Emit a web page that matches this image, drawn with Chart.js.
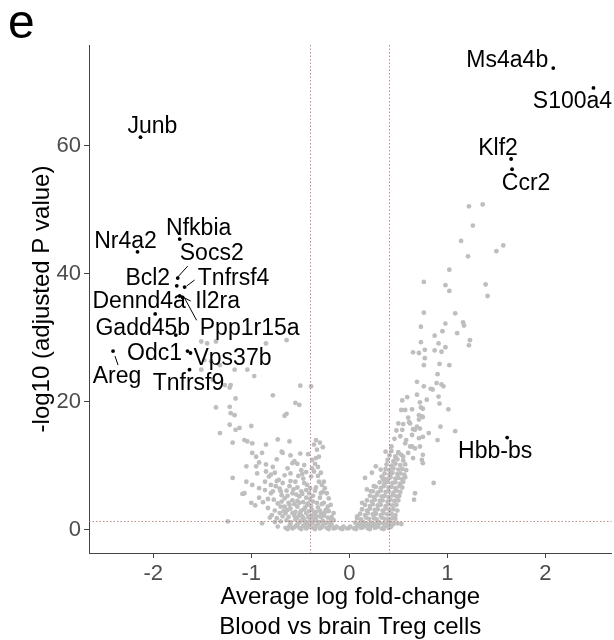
<!DOCTYPE html>
<html><head><meta charset="utf-8">
<script src="https://cdn.jsdelivr.net/npm/chart.js@4"></script>
<style>html,body{margin:0;padding:0;background:#fff;overflow:hidden}#wrap{position:relative;width:614px;height:640px}</style>
</head><body><div id="wrap"><canvas id="c" width="614" height="640"></canvas></div>
<script>
// ---- data ----
const geneNames = ['Junb','Nr4a2','Nfkbia','Socs2','Bcl2','Tnfrsf4','Dennd4a','Il2ra','Ppp1r15a','Gadd45b','Odc1','Vps37b','Areg','Tnfrsf9','Ms4a4b','S100a4','Klf2','Ccr2','Hbb-bs'];
const geneLogFC = [-2.13,-2.16,-1.73,-1.75,-1.76,-1.68,-1.98,-1.73,-1.70,-1.77,-1.65,-1.62,-2.41,-1.63,2.08,2.49,1.65,1.66,1.61];
const geneNegLogP = [61.3,43.4,45.4,39.3,38.1,37.9,33.7,36.5,36.3,30.4,27.9,27.6,27.9,25.0,72.1,69.0,57.9,56.3,14.4];

const grayLeftArm = [[-1.51,29.4],[-1.45,29.1],[-1.36,29.4],[-0.85,29.1],[-0.64,29.6],[-1.48,26.5],[-1.41,26.3],[-1.51,25.0],[-1.32,25.7],[-1.17,25.0],[-1.04,25.0],[-0.97,24.0],
[-1.39,23.4],[-1.27,22.6],[-1.22,22.2],[-1.21,22.6],[-0.50,22.5],[-0.39,22.4],[-0.78,21.0],[-1.16,20.5],[-0.55,19.8],[-0.51,19.5],[-1.36,19.1],[-1.22,19.2],[-1.21,18.2],[-1.17,17.9],[-0.66,17.8],[-0.64,18.1],
[-1.22,16.4],[-1.12,15.9],[-1.00,16.2],[-1.32,15.1],[-1.16,15.6],[-1.19,13.6],[-1.07,14.0],[-1.04,13.8],[-0.99,13.5],[-0.85,13.3],[-0.73,14.1],[-0.61,13.8],[-0.34,14.0],[-0.36,13.3],
[-0.99,12.0],[-0.89,12.0],[-0.95,11.4],[-0.68,12.0],[-0.50,11.9],[-0.69,12.2],[-0.33,12.5],[-0.58,10.4],[-0.46,10.1],[-0.56,10.7],[-0.38,10.9],[-0.34,11.2],[-0.31,11.4],
[-1.05,9.9],[-0.95,9.9],[-0.85,9.1],[-0.94,8.8],[-0.38,9.6],[-0.36,9.1],[-1.19,8.1],[-1.05,7.5],[-0.82,8.3],[-0.72,7.8],[-0.39,8.3],
[-0.99,7.0],[-0.92,6.5],[-0.75,6.8],[-0.68,7.3],[-0.61,6.8],[-0.55,7.5],[-0.46,7.3],[-0.31,7.5],[-0.28,7.0],[-0.26,7.5],
[-1.07,5.7],[-1.09,5.6],[-0.80,5.7],[-0.70,6.0],[-0.58,5.7],[-0.29,5.7],[-0.23,5.7],[-0.83,4.8],[-0.77,4.7],[-0.66,4.9],[-0.51,5.2],[-0.21,4.9],
[-0.70,3.6],[-0.61,3.9],[-0.51,4.2],[-0.43,3.9],[-0.26,4.2],[-0.19,3.9],[-0.65,2.6],[-0.58,2.6],[-0.51,2.3],[-0.44,2.6],[-0.21,2.9],[-0.16,2.6],
[-1.24,1.3],[-0.89,1.0],[-0.73,0.5],[-0.70,1.3]];
const grayLeftBase = [[-0.64,1.5],[-0.60,1.2],[-0.55,1.6],[-0.50,1.3],[-0.46,1.5],[-0.43,1.1],[-0.40,1.6],[-0.37,1.3],[-0.34,1.5],[-0.31,1.2],[-0.27,1.4],[-0.23,1.1],[-0.19,1.2],
[-0.68,2.1],[-0.62,2.0],[-0.56,2.2],[-0.53,1.9],[-0.48,2.1],[-0.42,2.0],[-0.39,2.2],[-0.36,1.9],[-0.33,2.1],[-0.29,2.0],[-0.26,2.2],[-0.22,1.9],[-0.18,2.0],
[-0.76,3.0],[-0.67,2.9],[-0.63,3.1],[-0.55,2.8],[-0.49,3.0],[-0.46,3.2],[-0.41,2.9],[-0.38,3.1],[-0.34,2.8],[-0.30,3.0],[-0.24,3.1],
[-0.88,4.3],[-0.73,4.1],[-0.69,4.4],[-0.62,4.2],[-0.56,4.0],[-0.53,4.5],[-0.47,4.3],[-0.42,4.1],[-0.37,4.4],[-0.33,4.2],[-0.28,4.0],
[-0.86,6.2],[-0.78,6.0],[-0.71,6.4],[-0.64,6.1],[-0.57,6.3],[-0.49,6.0],[-0.44,6.2],[-0.40,6.5],[-0.35,6.1],
[-0.80,8.6],[-0.76,8.9],[-0.66,8.5],[-0.60,8.8],[-0.52,8.4],[-0.48,8.7],
[-0.83,3.4],[-0.79,2.3],[-0.74,1.8],[-0.71,2.6],[-0.66,3.6],[-0.60,3.3],[-0.58,4.6],[-0.53,3.6],[-0.50,2.7],[-0.47,1.8],[-0.45,3.5],[-0.44,5.0],[-0.40,4.8],[-0.39,3.7],[-0.36,2.5],[-0.32,3.5],[-0.29,2.6],[-0.25,2.7],[-0.22,3.6],[-0.19,1.7],[-0.16,1.5],
[-0.86,7.5],[-0.80,7.0],[-0.74,7.6],[-0.69,5.4],[-0.63,5.3],[-0.60,7.6],[-0.54,5.5],[-0.53,6.6],[-0.48,5.6],[-0.47,8.0],[-0.43,7.0],[-0.41,5.7],[-0.37,5.3],[-0.34,6.6],[-0.32,8.4],[-0.30,5.0],[-0.27,5.9],[-0.25,6.5],
[-0.92,10.5],[-0.85,10.2],[-0.78,9.8],[-0.74,11.0],[-0.63,9.6],[-0.60,11.6],[-0.53,10.3],[-0.49,9.3],[-0.44,9.0],[-0.42,11.8],[-0.35,10.3],[-0.32,9.8],[-0.29,8.9],
[-0.96,3.8],[-0.92,5.0],[-1.00,4.2],[-0.81,1.9],[-0.76,1.2],[-0.27,12.9],[-0.30,13.6]];
const grayFloor = [[-0.65,0.3],[-0.61,0.6],[-0.58,0.2],[-0.54,0.7],[-0.51,0.3],[-0.47,0.6],[-0.44,0.2],[-0.41,0.7],[-0.37,0.3],[-0.34,0.6],[-0.30,0.2],[-0.27,0.7],[-0.23,0.3],[-0.20,0.6],[-0.16,0.2],[-0.13,0.5],[-0.09,0.2],[-0.06,0.5],[-0.02,0.2],[0.01,0.5],[0.05,0.2],[0.08,0.6],[0.12,0.3],[0.15,0.6],[0.19,0.2],[0.22,0.6],[0.26,0.3],[0.29,0.6],[0.33,0.2],[0.36,0.6],[0.40,0.3],[0.43,0.6],
[-0.63,0.1],[-0.56,0.4],[-0.49,0.1],[-0.42,0.4],[-0.35,0.1],[-0.28,0.4],[-0.21,0.1],[-0.14,0.3],[-0.07,0.1],[0.00,0.3],[0.07,0.1],[0.14,0.4],[0.21,0.1],[0.28,0.4],[0.35,0.1],[0.42,0.4],
[-0.60,0.9],[-0.52,1.0],[-0.45,0.9],[-0.38,1.0],[-0.32,0.9],[-0.25,1.0],[-0.18,0.8],[0.10,0.9],[0.17,1.0],[0.24,0.9],[0.31,1.0],[0.38,0.9]];
const grayRightBase = [[0.06,1.1],[0.11,0.9],[0.14,1.2],[0.19,0.8],[0.22,1.1],[0.27,0.9],[0.30,1.2],[0.35,1.0],[0.38,0.8],[0.42,1.1],[0.45,0.9],
[0.08,1.8],[0.12,1.6],[0.17,1.9],[0.20,1.7],[0.25,1.8],[0.28,1.6],[0.33,1.9],[0.36,1.7],[0.40,1.6],[0.44,1.8],[0.47,1.7],
[0.11,2.5],[0.16,2.3],[0.19,2.6],[0.24,2.4],[0.27,2.5],[0.32,2.3],[0.35,2.6],[0.39,2.4],[0.43,2.5],[0.47,2.3],
[0.13,3.2],[0.18,3.0],[0.21,3.3],[0.26,3.1],[0.29,3.2],[0.34,3.0],[0.37,3.3],[0.41,3.1],[0.45,3.2],[0.49,3.0],
[0.16,3.9],[0.21,3.7],[0.24,4.0],[0.29,3.8],[0.32,3.9],[0.37,3.7],[0.40,4.0],[0.44,3.8],[0.48,3.9],
[0.18,4.6],[0.23,4.4],[0.26,4.7],[0.31,4.5],[0.34,4.6],[0.39,4.4],[0.42,4.7],[0.46,4.5],[0.50,4.6],
[0.21,5.3],[0.25,5.1],[0.28,5.4],[0.33,5.2],[0.36,5.3],[0.40,5.1],[0.44,5.4],[0.48,5.2],[0.51,5.3],
[0.24,6.0],[0.29,5.8],[0.32,6.1],[0.37,5.9],[0.40,6.0],[0.45,5.8],[0.48,6.1],[0.52,5.9],
[0.27,6.7],[0.32,6.5],[0.35,6.8],[0.40,6.6],[0.43,6.7],[0.47,6.5],[0.51,6.8],[0.54,6.6],
[0.31,7.4],[0.36,7.2],[0.39,7.5],[0.44,7.3],[0.47,7.4],[0.52,7.2],[0.55,7.5],
[0.34,8.1],[0.38,7.9],[0.42,8.2],[0.47,8.0],[0.50,8.1],[0.54,7.9],[0.57,8.2],
[0.36,8.8],[0.41,8.6],[0.44,8.9],[0.49,8.7],[0.52,8.8],[0.56,8.6],
[0.37,9.5],[0.41,9.3],[0.45,9.6],[0.50,9.4],[0.54,9.5],[0.58,9.3],
[0.38,10.2],[0.43,10.0],[0.47,10.3],[0.52,10.1],[0.57,10.2],
[0.39,10.9],[0.45,10.7],[0.49,11.0],[0.55,10.8],[0.41,11.6],[0.47,11.4],[0.53,11.7],[0.43,12.3],[0.50,12.1],
[0.16,8.1],[0.23,8.9],[0.33,8.3],[0.35,7.8],[0.25,6.8],[0.18,6.3],[0.13,4.2],[0.08,2.1],[0.22,6.0],[0.27,9.9],[0.32,9.4],
[0.49,1.0],[0.53,0.9],[0.67,5.7]];
const grayRightArm = [[1.22,50.5],[1.36,50.8],[1.26,47.5],[1.14,45.1],[1.21,42.7],[1.50,43.5],[1.57,44.4],[1.02,40.6],[0.76,38.7],[0.98,38.2],[1.02,37.3],[1.39,38.3],[1.41,36.5],
[0.76,33.9],[1.08,33.8],[0.73,31.7],[0.98,32.2],[1.16,32.4],[1.17,31.9],[0.87,30.3],[0.95,31.0],[1.10,30.7],[0.73,29.3],[0.91,29.1],[1.23,29.6],[1.22,28.8],
[0.65,27.7],[0.71,27.6],[0.77,28.1],[0.87,28.0],[0.94,27.8],[0.98,28.5],[0.77,26.8],[0.76,25.7],[0.92,25.9],[1.02,25.7],[0.90,24.3],[0.69,23.1],[0.76,22.4],[0.83,22.0],[0.85,21.9],[0.89,22.9],[0.94,22.7],[0.96,22.4],
[0.54,20.2],[0.59,20.7],[0.69,21.1],[0.79,20.3],[0.72,19.9],[0.91,20.8],[0.92,19.7],[0.53,18.7],[0.73,19.1],[0.75,18.9],[1.01,18.8],
[0.55,16.5],[0.61,16.8],[0.71,17.2],[0.74,17.7],[0.50,16.6],[0.65,15.7],[0.69,16.1],[0.72,15.8],[0.81,15.1],[0.93,16.1],[1.08,15.4],
[0.64,14.8],[0.71,14.3],[0.75,14.5],[0.90,14.0],[0.57,13.5],[0.62,13.0],[0.67,12.7],[0.72,13.0],[0.43,13.0],[0.37,12.2],[0.50,12.0],[0.55,11.4],[0.60,12.0],[0.65,11.2],[0.74,10.9],[0.75,11.7],[0.75,10.4],[0.86,7.3],[0.66,4.7],
[0.57,18.7],[0.64,18.8],[0.71,17.9],[0.75,17.6],[0.54,15.6],[0.62,16.6],[0.67,15.6],[0.64,13.0],[0.47,11.4],[0.46,14.2],[0.52,14.6],[0.58,14.0],[0.60,17.5],[0.48,15.5]];

const xTicks = [-2, -1, 0, 1, 2];
const yTicks = [0, 20, 40, 60];
const fcThreshold = 0.4;
const pThreshold = 1.3;
const panelLetter = 'e';
const xTitle = ['Average log fold-change', 'Blood vs brain Treg cells'];
const yTitle = '-log10 (adjusted P value)';

// ---- layout of gene labels (pixel offsets from point: text baseline centre, optional leader segment) ----
const labelLayout = {
  'Junb':[12,-4], 'Nr4a2':[-12,-4], 'Nfkbia':[19,-4], 'Socs2':[34,-18,10,-12,0,-1], 'Bcl2':[-29,-1],
  'Tnfrsf4':[49,-2,10,-7,2,-1], 'Dennd4a':[-16,-6], 'Il2ra':[38,12,11,5,3,1], 'Ppp1r15a':[67,38,2,1,14,23],
  'Gadd45b':[-33,0], 'Odc1':[-33,9], 'Vps37b':[42,12], 'Areg':[4,32,2,5,5,14], 'Tnfrsf9':[-1,20],
  'Ms4a4b':[-46,-1], 'S100a4':[-21,20], 'Klf2':[-13,-4], 'Ccr2':[14,21], 'Hbb-bs':[-12,20]
};

const FONT = '"Liberation Sans", Arial, Helvetica, sans-serif';
const toPts = arr => arr.map(p => ({x: p[0], y: p[1]}));
const grayPts = [].concat(toPts(grayLeftArm), toPts(grayLeftBase), toPts(grayFloor), toPts(grayRightBase), toPts(grayRightArm));
const genePts = geneNames.map((n, i) => ({x: geneLogFC[i], y: geneNegLogP[i], name: n}));

const overlay = {
  id: 'overlay',
  afterDatasetsDraw(chart) {
    const {ctx, chartArea: a, scales: {x, y}} = chart;
    ctx.save();
    ctx.strokeStyle = 'rgba(185,120,120,0.85)';
    ctx.lineWidth = 1;
    ctx.setLineDash([1.5, 2]);
    [-fcThreshold, fcThreshold].forEach(v => {
      const px = Math.round(x.getPixelForValue(v)) + 0.5;
      ctx.beginPath(); ctx.moveTo(px, a.top); ctx.lineTo(px, a.bottom); ctx.stroke();
    });
    const py = Math.round(y.getPixelForValue(pThreshold)) + 0.5;
    ctx.beginPath(); ctx.moveTo(a.left, py); ctx.lineTo(a.right, py); ctx.stroke();
    ctx.setLineDash([]);
    // gene labels
    ctx.font = '23px ' + FONT;
    ctx.fillStyle = '#000';
    ctx.strokeStyle = '#000';
    ctx.textAlign = 'center';
    ctx.textBaseline = 'alphabetic';
    genePts.forEach(g => {
      const L = labelLayout[g.name];
      const gx = x.getPixelForValue(g.x), gy = y.getPixelForValue(g.y);
      ctx.fillText(g.name, gx + L[0], gy + L[1]);
      if (L.length > 2) {
        ctx.beginPath(); ctx.moveTo(gx + L[2], gy + L[3]); ctx.lineTo(gx + L[4], gy + L[5]); ctx.stroke();
      }
    });
    // panel letter
    ctx.textAlign = 'left';
    ctx.font = '48px ' + FONT;
    ctx.fillText(panelLetter, 8, 38);
    ctx.restore();
  }
};

new Chart(document.getElementById('c'), {
  type: 'scatter',
  data: {
    datasets: [
      {data: grayPts, pointRadius: 2.4, pointHoverRadius: 2.4, backgroundColor: '#bebebe', borderWidth: 0},
      {data: genePts, pointRadius: 1.9, pointHoverRadius: 1.9, backgroundColor: '#000', borderWidth: 0}
    ]
  },
  options: {
    responsive: false,
    animation: false,
    devicePixelRatio: 1,
    layout: {padding: {top: 45, left: 0, right: 0, bottom: 0}},
    plugins: {legend: {display: false}, tooltip: {enabled: false}},
    scales: {
      x: {
        type: 'linear', min: -2.655, max: 2.675,
        afterBuildTicks: s => { s.ticks = xTicks.map(v => ({value: v})); },
        afterFit: s => { s.height = 87; },
        ticks: {font: {family: FONT, size: 22}, color: '#4d4d4d', padding: 3, maxRotation: 0, autoSkip: false},
        grid: {drawOnChartArea: false, drawTicks: true, tickLength: 5, color: '#444', tickColor: '#444'},
        border: {display: true, color: '#444', width: 1},
        title: {display: true, text: xTitle, color: '#000', font: {family: FONT, size: 24, lineHeight: 1.25}, padding: {top: 0, bottom: -2}}
      },
      y: {
        type: 'linear', min: -3.63, max: 75.7,
        afterBuildTicks: s => { s.ticks = yTicks.map(v => ({value: v})); },
        afterFit: s => { s.width = 89; },
        ticks: {font: {family: FONT, size: 22}, color: '#4d4d4d', padding: 3},
        grid: {drawOnChartArea: false, drawTicks: true, tickLength: 5, color: '#444', tickColor: '#444'},
        border: {display: true, color: '#444', width: 1},
        title: {display: true, text: yTitle, color: '#000', font: {family: FONT, size: 24}, padding: {top: 28, bottom: 0}}
      }
    }
  },
  plugins: [overlay]
});
</script>
</body></html>
